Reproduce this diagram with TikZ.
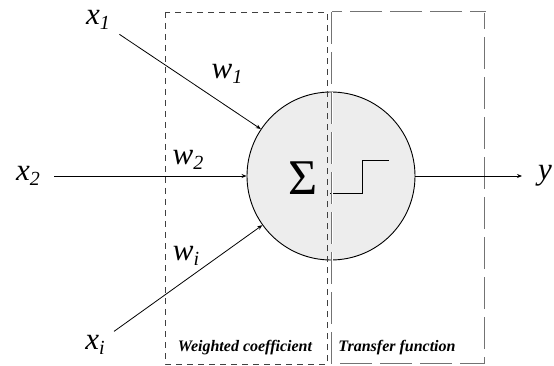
\documentclass[tikz,border=0pt]{standalone}
\usepackage{fontspec}
\setmainfont{Liberation Serif}
\usetikzlibrary{arrows.meta}
\newcommand{\sinal}[2]{\textit{#1\raisebox{-0.3ex}{\fontsize{20}{20}\selectfont #2}}}

\begin{document}
\begin{tikzpicture}[x=1pt, y=-1pt, >={Stealth[length=5pt,width=4pt]}, rotulo/.style={font=\fontsize{31}{31}\selectfont, inner sep=1pt}, neuronio/.style={draw, circle, fill=black!7, line width=0.9pt, minimum size=168pt, inner sep=0pt}, legenda/.style={font=\fontsize{16}{16}\selectfont\bfseries\itshape, inner sep=0pt}, caixapeso/.style={draw=black!75, dash pattern=on 6pt off 5pt, line width=0.6pt}, caixatrans/.style={draw=black!55, double, double distance=0.9pt, line width=0.5pt, dash pattern=on 32pt off 8pt}, liga/.style={->, line width=0.8pt}]
\useasboundingbox (0,0) rectangle (554,366);
\node[neuronio] (soma) at (331,176) {};
\node[font=\fontsize{50}{50}\selectfont, inner sep=0pt] (sigma) at (303,178) {Σ};
\draw[line width=0.8pt] (330,193) -- (362,193) -- (362,160) -- (389,160);
\draw[caixapeso] (165,12) rectangle (327,364);
\draw[caixatrans] (332,12) rectangle (485,364);
\node[rotulo] (x1) at (98,20) {\sinal{x}{1}};
\node[rotulo] (x2) at (28,176) {\sinal{x}{2}};
\node[rotulo] (xi) at (95,345) {\sinal{x}{i}};
\node[rotulo, anchor=west] (y) at (537,176) {\textit{y}};
\node[rotulo] (w1) at (227,74) {\sinal{w}{1}};
\node[rotulo] (w2) at (188,160) {\sinal{w}{2}};
\node[rotulo] (wi) at (186,256) {\sinal{w}{i}};
\draw[liga, shorten <=10pt] (x1) -- (soma); \draw[liga, shorten <=13pt] (x2) -- (soma); \draw[liga, shorten <=10pt] (xi) -- (soma);
\draw[liga, shorten >=15pt] (soma) -- (y);
\node[legenda] (coef) at (245,348) {Weighted coefficient};
\node[legenda] (transf) at (397,348) {Transfer function};
\end{tikzpicture}
\end{document}
